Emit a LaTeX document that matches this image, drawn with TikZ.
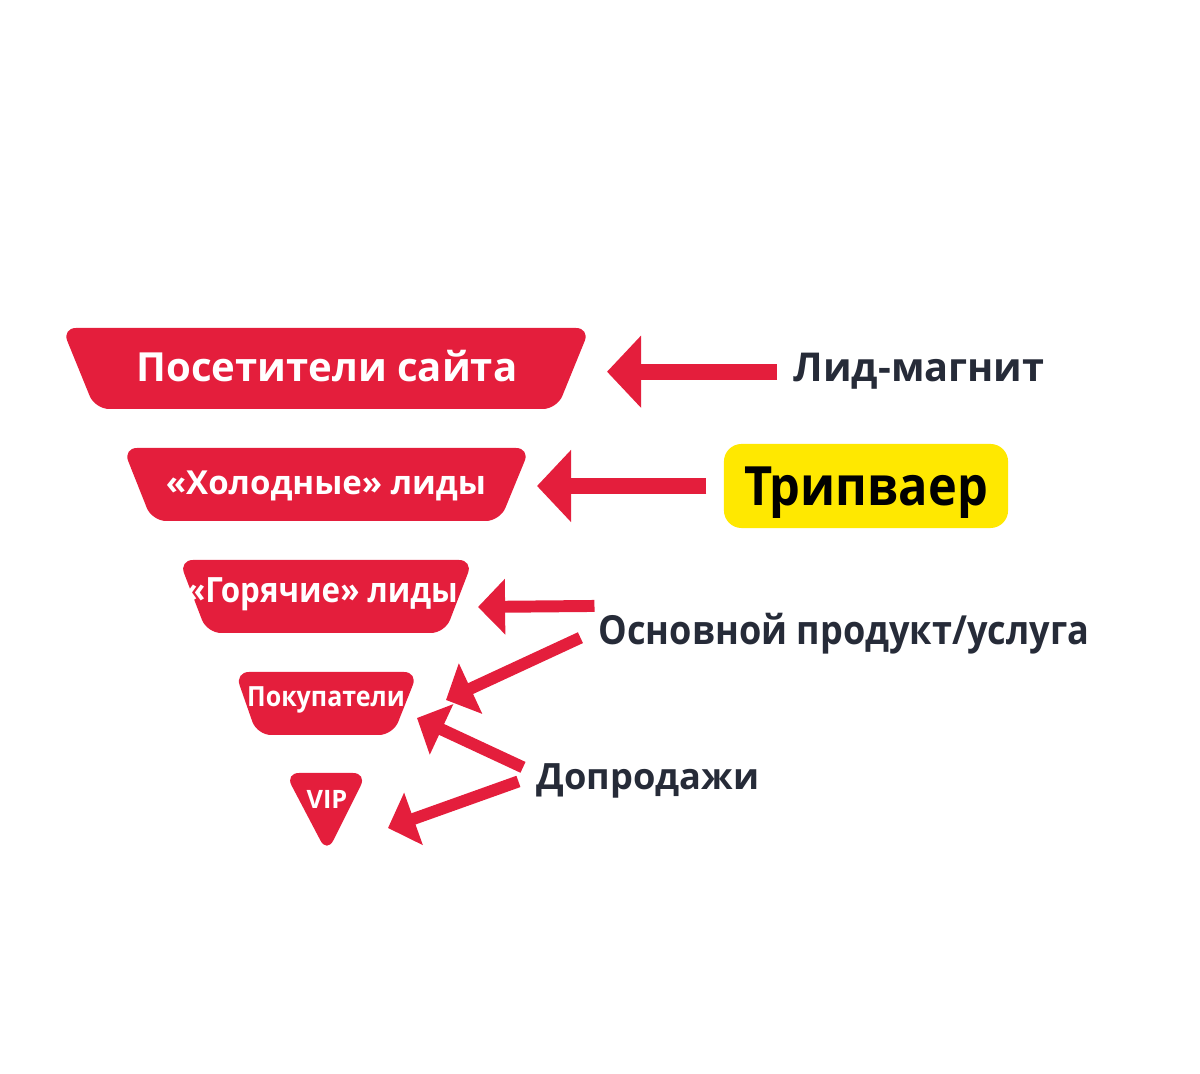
\documentclass[tikz,border=0pt]{standalone}
\usepackage{fontspec}
\setmainfont{Open Sans}
\newfontfamily\narrowfont[FakeStretch=0.9]{Open Sans}
\usetikzlibrary{arrows.meta}
\definecolor{funnelred}{RGB}{228,30,60}
\definecolor{labelink}{RGB}{38,43,56}
\definecolor{tripyellow}{RGB}{255,232,0}
\newcommand\fsize[1]{\fontsize{#1}{#1}\selectfont}

\tikzset{
	layer/.style = {fill=funnelred, rounded corners=4pt},
	layertext/.style = {text=white, inner sep=0pt, anchor=base},
	offer/.style = {text=labelink, inner sep=0pt, anchor=base west},
	bigpointer/.style = {draw=funnelred, line width=4.5pt, -{Triangle[length=9.7pt, width=20pt]}},
	pointer/.style = {draw=funnelred, line width=3.4pt, -{Triangle[length=7.7pt, width=15.4pt]}},
}

\begin{document}
\begin{tikzpicture}[x=0.01cm, y=-0.01cm]
	\useasboundingbox (0,0) rectangle (1200,1074);

	% funnel
	\fill[layer] (62,328) -- (590,328) -- (557,409) -- (95,409) -- cycle;
	\fill[layer] (123,448) -- (530,448) -- (500,521) -- (152,521) -- cycle;
	\fill[layer] (179,560) -- (473,560) -- (445,633) -- (207,633) -- cycle;
	\fill[layer] (235,672) -- (418,672) -- (393,735) -- (257,735) -- cycle;
	\fill[layer] (285,773) -- (367,773) -- (327,853) -- cycle;

	\node[layertext, font=\bfseries\fsize{11.4}] (visitors) at (327,382) {Посетители сайта};
	\node[layertext, font=\bfseries\fsize{9.4}] (cold) at (326,495) {«Холодные» лиды};
	\node[layertext, font=\narrowfont\bfseries\fsize{9.9}] (hot) at (322,603) {«Горячие» лиды};
	\node[layertext, font=\narrowfont\bfseries\fsize{7.9}] (buyers) at (326,707) {Покупатели};
	\node[layertext, font=\bfseries\fsize{7.2}] (vip) at (327,809) {VIP};

	% arrow tips
	\coordinate (tip1) at (607,367);
	\coordinate (tip2) at (537,487);
	\coordinate (tip3) at (478,607);
	\coordinate (tip4) at (446,700);
	\coordinate (tip5) at (417,718);
	\coordinate (tip6) at (388,828);

	% offers
	\node[offer, font=\bfseries\fsize{11.3}] (magnet) at (793,382) {Лид-магнит};
	\node[fill=tripyellow, rounded corners=5pt, minimum width=80.8pt, minimum height=23.9pt,
		text depth=0pt, font=\narrowfont\bfseries\fsize{15.4}] (trip) at (866,486) {Трипваер};
	\node[offer, font=\narrowfont\bfseries\fsize{11.4}] (core) at (598,645) {Основной продукт/услуга};
	\node[offer, font=\bfseries\fsize{10.3}] (upsell) at (536,790) {Допродажи};

	\draw[bigpointer, shorten <=4.5pt] (magnet.west) -- (tip1 |- magnet.west);
	\draw[bigpointer, shorten <=4.8pt] (trip.west) -- (tip2 |- trip.west);
	\draw[pointer] ([xshift=-1pt, yshift=2pt]core.north west) -- (tip3);
	\draw[pointer] ([xshift=-5pt, yshift=-1pt]core.west) -- (tip4);
	\draw[pointer] ([xshift=-3.7pt, yshift=4pt]upsell.west) -- (tip5);
	\draw[pointer] ([xshift=-5pt]upsell.west) -- (tip6);
\end{tikzpicture}
\end{document}
